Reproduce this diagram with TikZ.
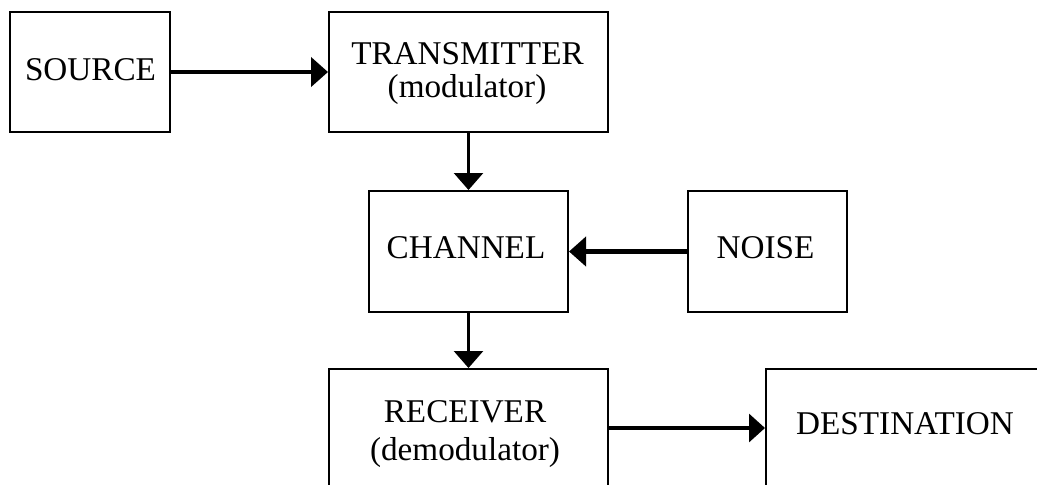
\documentclass[tikz,border=0pt]{standalone}
\usepackage{fontspec}
\setmainfont{Liberation Serif}
\usetikzlibrary{arrows.meta}
\begin{document}
\begin{tikzpicture}[x=0.5pt,y=-0.5pt,
  blockbox/.style={draw=black,line width=1pt,rectangle,inner sep=0pt,fill=none},
  lbl/.style={inner sep=0pt,anchor=base,font=\fontsize{16.6}{20}\selectfont},
  fatarrow/.style={line width=2.3pt,-{Triangle[length=8.5pt,width=14.5pt]}},
  thinarrow/.style={line width=1.3pt,-{Triangle[length=8.5pt,width=14.5pt]}},
  midarrow/.style={line width=1.6pt,-{Triangle[length=8pt,width=14pt]}}]
\clip (0,0) rectangle (1037,484);
\fill[white] (0,0) rectangle (1037,484);
% boxes
\node[blockbox,minimum width=80pt,minimum height=60pt] (src) at (90,72) {};
\node[blockbox,minimum width=139.5pt,minimum height=60pt] (tx) at (468.5,72) {};
\node[blockbox,minimum width=99.5pt,minimum height=60.5pt] (ch) at (468.5,251.5) {};
\node[blockbox,minimum width=79.5pt,minimum height=60.5pt] (noise) at (767.5,251.5) {};
\node[blockbox,minimum width=139.5pt,minimum height=59pt] (rx) at (468.5,428) {};
\node[blockbox,minimum width=150pt,minimum height=59pt] (dst) at (916,428) {};
% labels
\node[lbl] (srcT) at (90.5,80) {SOURCE};
\node[lbl] (txT1) at (467.5,64) {TRANSMITTER};
\node[lbl] (txT2) at (467,97) {(modulator)};
\node[lbl] (chT) at (466,258) {CHANNEL};
\node[lbl] (noiseT) at (765.5,258) {NOISE};
\node[lbl] (rxT1) at (465,422) {RECEIVER};
\node[lbl] (rxT2) at (465,460) {(demodulator)};
\node[lbl] (dstT) at (905,434) {DESTINATION};
% connectors
\draw[fatarrow] (src.east) -- (tx.west);
\draw[thinarrow] (tx.south) -- (tx.south |- ch.north);
\draw[fatarrow] (noise.west) -- (ch.east);
\draw[thinarrow] (ch.south) -- (ch.south |- rx.north);
\draw[midarrow] (rx.east) -- (dst.west);
\end{tikzpicture}
\end{document}
